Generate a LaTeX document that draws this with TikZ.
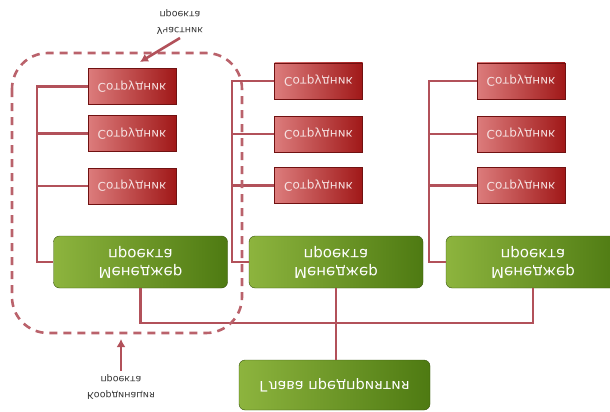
\documentclass[tikz,border=0pt]{standalone}
\usepackage{fontspec}
\setmainfont{DejaVu Sans}
\usetikzlibrary{arrows.meta}
\definecolor{empL}{HTML}{DC7C7C}
\definecolor{empD}{HTML}{A01818}
\definecolor{empT}{HTML}{F6E2E2}
\definecolor{mgrL}{HTML}{8DB43E}
\definecolor{mgrD}{HTML}{4E7A12}
\definecolor{linkc}{HTML}{B2515A}
\tikzset{
	emp/.style={rectangle, minimum width=88, minimum height=36, left color=empL, right color=empD, draw=empD!70!black, line width=0.4, text=empT, font=\fontsize{12}{15}\selectfont, transform shape},
	mgr/.style={rectangle, rounded corners=6, minimum width=174, minimum height=52, left color=mgrL, right color=mgrD, draw=mgrD!70!black, line width=0.4, text=white, align=center, font=\fontsize{15}{18}\selectfont, transform shape},
	note/.style={align=center, text=black!80, font=\fontsize{9.5}{16}\selectfont, transform shape},
	link/.style={draw=linkc, line width=2.4},
	team/.style={draw=linkc!90!white, line width=2.6, dash pattern=on 8pt off 6pt, rounded corners=36},
	pointer/.style={draw=linkc, line width=2.6, -{Latex[length=8pt,width=9pt]}}
}
\begin{document}
\begin{tikzpicture}[x=1pt, y=1pt, yscale=-1]
	%%%%% START %%%%%
	\useasboundingbox (0, 0) rectangle (610, 412);
	\clip (0, 0) rectangle (610, 412);
	
	% head and managers
	\node[mgr, minimum width=191, minimum height=50, font=\fontsize{14.5}{18}\selectfont] (head) at (334.5, 385) {Глава предприятия};
	\node[mgr] (mgrA) at (140.5, 262) {Менеджер\\проекта};
	\node[mgr] (mgrB) at (336, 262) {Менеджер\\проекта};
	\node[mgr] (mgrC) at (533, 262) {Менеджер\\проекта};
	
	% employees
	\node[emp] (empA1) at (132, 86.5) {Сотрудник};
	\node[emp] (empA2) at (132, 133.5) {Сотрудник};
	\node[emp] (empA3) at (132, 186) {Сотрудник};
	\node[emp] (empB1) at (318.5, 81) {Сотрудник};
	\node[emp] (empB2) at (318.5, 134) {Сотрудник};
	\node[emp] (empB3) at (318.5, 185.5) {Сотрудник};
	\node[emp] (empC1) at (521, 81) {Сотрудник};
	\node[emp] (empC2) at (521, 134) {Сотрудник};
	\node[emp] (empC3) at (521, 185.5) {Сотрудник};
	
	% buses
	\coordinate (busA) at (37, 0);
	\coordinate (busB) at (232, 0);
	\coordinate (busC) at (429, 0);
	\coordinate (join) at (336, 323);
	
	\draw[link] (empA1.west) -- (busA |- empA1.west) -- (busA |- mgrA.west) -- (mgrA.west);
	\draw[link] (empA2.west) -- (busA |- empA2.west);
	\draw[link] (empA3.west) -- (busA |- empA3.west);
	
	\draw[link] (empB1.west) -- (busB |- empB1.west) -- (busB |- mgrB.west) -- (mgrB.west);
	\draw[link] (empB2.west) -- (busB |- empB2.west);
	\draw[link] (empB3.west) -- (busB |- empB3.west);
	
	\draw[link] (empC1.west) -- (busC |- empC1.west) -- (busC |- mgrC.west) -- (mgrC.west);
	\draw[link] (empC2.west) -- (busC |- empC2.west);
	\draw[link] (empC3.west) -- (busC |- empC3.west);
	
	\draw[link] (mgrA.north) |- (join) -| (mgrC.north);
	\draw[link] (mgrB.north) -- (mgrB.north |- head.south);
	
	% project team
	\draw[team] (12, 53) rectangle (242, 333);
	
	\node[note] (member) at (180, 22) {Участник\\проекта};
	\coordinate (memberTip) at (140, 62);
	\draw[pointer] (member.north) -- (memberTip);
	
	\node[note] (coord) at (121, 387) {Координация\\проекта};
	\coordinate (coordTip) at (121, 339);
	\draw[pointer] (coord.south) -- (coordTip);
	
	%%%%% END %%%%%
\end{tikzpicture}
\end{document}
